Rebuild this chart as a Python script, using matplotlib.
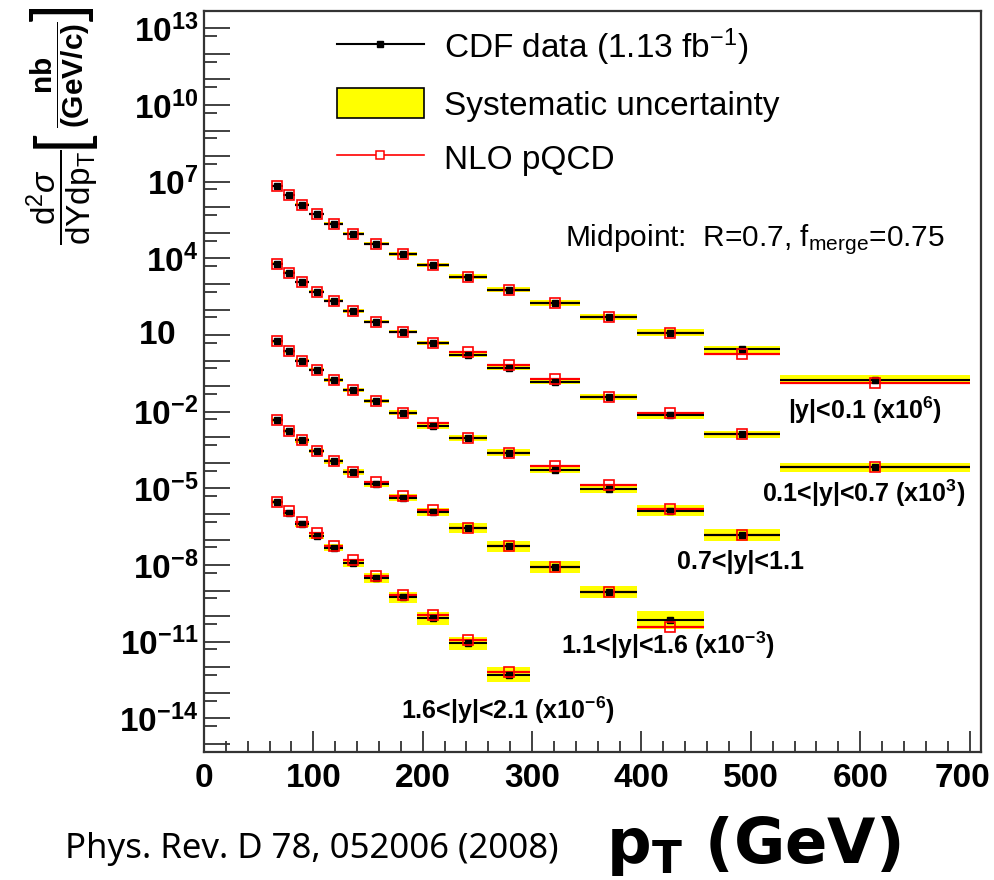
import numpy as np
import matplotlib
matplotlib.use('Agg')
import matplotlib.pyplot as plt
from matplotlib.lines import Line2D
from matplotlib.patches import Patch
from matplotlib.ticker import FixedLocator, FuncFormatter, MultipleLocator

plt.rcParams['font.family'] = ['Liberation Sans', 'DejaVu Sans']
plt.rcParams['mathtext.fontset'] = 'custom'
plt.rcParams['mathtext.rm'] = 'Liberation Sans'
plt.rcParams['mathtext.it'] = 'Liberation Sans:italic'
plt.rcParams['mathtext.bf'] = 'Liberation Sans:bold'
plt.rcParams['mathtext.sf'] = 'Liberation Sans'

# ---------------- data ----------------
pt_edges = [62, 72, 83, 96, 110, 127, 146, 169, 195, 224, 259, 298, 344, 396, 457, 527, 700]

region_labels = ['|y|<0.1 (x10$^{\\mathbf{6}}$)',
                 '0.1<|y|<0.7 (x10$^{\\mathbf{3}}$)',
                 '0.7<|y|<1.1',
                 '1.1<|y|<1.6 (x10$^{\\mathbf{-3}}$)',
                 '1.6<|y|<2.1 (x10$^{\\mathbf{-6}}$)']
region_scales = [1e6, 1e3, 1.0, 1e-3, 1e-6]

# cross sections in nb/(GeV/c), before the display scale factor
data_y1 = [6.85, 2.96, 1.28, 0.55, 0.231, 0.0904, 0.038, 0.0145, 5.37e-3, 1.94e-3,
           6.0e-4, 1.79e-4, 5.07e-5, 1.24e-5, 2.75e-6, 1.79e-7]
nlo_y1 = [6.85, 2.96, 1.28, 0.55, 0.231, 0.0904, 0.038, 0.0145, 5.37e-3, 1.94e-3,
          6.0e-4, 1.79e-4, 5.07e-5, 1.24e-5, 1.87e-6, 1.32e-7]
sys_y1 = [0.12, 0.12, 0.12, 0.12, 0.14, 0.14, 0.16, 0.18, 0.20, 0.22,
          0.25, 0.28, 0.30, 0.35, 0.40, 0.50]

data_y2 = [6.27, 2.78, 1.19, 0.492, 0.222, 0.0871, 0.0335, 0.0136, 4.86e-3, 1.65e-3,
           5.28e-4, 1.50e-4, 3.72e-5, 7.16e-6, 1.29e-6, 6.76e-8]
nlo_y2 = [6.27, 2.78, 1.19, 0.492, 0.222, 0.0871, 0.0335, 0.0136, 4.86e-3, 2.16e-3,
          6.5e-4, 1.84e-4, 3.72e-5, 9.1e-6, 1.29e-6, 6.76e-8]
sys_y2 = [0.12, 0.12, 0.12, 0.13, 0.14, 0.15, 0.16, 0.18, 0.20, 0.22,
          0.25, 0.28, 0.32, 0.36, 0.42, 0.50]

data_y3 = [5.66, 2.36, 0.993, 0.442, 0.179, 0.0702, 0.0269, 9.12e-3, 2.82e-3, 9.25e-4,
           2.54e-4, 5.50e-5, 9.64e-6, 1.36e-6, 1.47e-7]
nlo_y3 = [5.66, 2.36, 0.993, 0.442, 0.179, 0.0702, 0.0269, 9.12e-3, 3.48e-3, 9.25e-4,
          2.54e-4, 7.4e-5, 1.42e-5, 1.58e-6, 1.5e-7]
sys_y3 = [0.15, 0.15, 0.15, 0.16, 0.18, 0.20, 0.22, 0.25, 0.28, 0.32,
          0.36, 0.42, 0.50, 0.60, 0.70]

data_y4 = [4.85, 1.80, 0.750, 0.296, 0.116, 0.0431, 0.0151, 4.28e-3, 1.21e-3, 2.86e-4,
           5.43e-5, 8.34e-6, 8.57e-7, 7.11e-8]
nlo_y4 = [4.85, 1.80, 0.750, 0.296, 0.116, 0.0431, 0.0175, 4.94e-3, 1.40e-3, 2.86e-4,
          5.43e-5, 8.34e-6, 8.57e-7, 3.66e-8]
sys_y4 = [0.18, 0.18, 0.20, 0.22, 0.25, 0.28, 0.32, 0.38, 0.45, 0.52,
          0.60, 0.70, 0.72, 1.20]

data_y5 = [2.88, 1.11, 0.395, 0.139, 0.0471, 0.0119, 3.17e-3, 5.47e-4, 8.22e-5, 8.63e-6, 5.13e-7]
nlo_y5 = [2.88, 1.36, 0.503, 0.182, 0.0579, 0.0160, 3.70e-3, 6.97e-4, 1.15e-4, 1.17e-5, 6.71e-7]
sys_y5 = [0.20, 0.22, 0.25, 0.30, 0.36, 0.45, 0.55, 0.65, 0.75, 0.85, 1.00]

data_sets = [data_y1, data_y2, data_y3, data_y4, data_y5]
nlo_sets = [nlo_y1, nlo_y2, nlo_y3, nlo_y4, nlo_y5]
sys_sets = [sys_y1, sys_y2, sys_y3, sys_y4, sys_y5]

legend_labels = ['CDF data (1.13 fb$^{-1}$)', 'Systematic uncertainty', 'NLO pQCD']
x_ticks = [0, 100, 200, 300, 400, 500, 600, 700]
y_decades = list(range(-15, 14))
y_labelled = [13, 10, 7, 4, 1, -2, -5, -8, -11, -14]

# ---------------- figure ----------------
W, H = 994, 880
fig = plt.figure(figsize=(W / 100, H / 100), dpi=100)
fig.patch.set_facecolor('white')


def fx(px):
    return px / W


def fy(py):
    return 1 - py / H


ax = fig.add_axes([fx(204), fy(751.5), fx(980.5) - fx(204), fy(10.7) - fy(751.5)])
ax.set_yscale('log')
ax.set_xlim(0, 710)
ax.set_ylim(5.1e-16, 4.9e13)

for data, nlo, sys, scale in zip(data_sets, nlo_sets, sys_sets, region_scales):
    n = len(data)
    lo = np.array(pt_edges[:n], dtype=float)
    hi = np.array(pt_edges[1:n + 1], dtype=float)
    xc = (lo + hi) / 2
    xe = (hi - lo) / 2
    d = np.array(data) * scale
    t = np.array(nlo) * scale
    s = np.array(sys)
    ax.bar(lo, d * (1 + s) - d / (1 + s), width=hi - lo, bottom=d / (1 + s),
           align='edge', color='#ffff00', edgecolor='none', zorder=1)
    ax.errorbar(xc, t, xerr=xe, fmt='none', ecolor='red', elinewidth=1.6,
                capsize=0, zorder=2)
    ax.errorbar(xc, d, xerr=xe, fmt='s', color='black', ms=5, elinewidth=1.5,
                capsize=0, zorder=3)
    ax.plot(xc, t, 's', mfc='none', mec='red', ms=6.5, mew=1.2, zorder=4)

# axes styling
for sp in ax.spines.values():
    sp.set_linewidth(1.6)
    sp.set_color('#333333')
ax.axvline(709.2, color='#ff9090', lw=0.8, zorder=0)

ax.xaxis.set_major_locator(FixedLocator(x_ticks))
ax.xaxis.set_minor_locator(MultipleLocator(20))
ax.yaxis.set_major_locator(FixedLocator([10.0 ** k for k in y_decades]))
ax.yaxis.set_minor_locator(FixedLocator([5 * 10.0 ** k for k in y_decades]))


def yfmt(v, pos):
    k = int(round(np.log10(v)))
    if k not in y_labelled or k == 1:
        return ''
    return r'$\mathbf{10^{%d}}$' % k


def xfmt(v, pos):
    return '' if v >= 700 else '%d' % v


ax.yaxis.set_major_formatter(FuncFormatter(yfmt))
ax.yaxis.set_minor_formatter(FuncFormatter(lambda v, p: ''))
ax.xaxis.set_major_formatter(FuncFormatter(xfmt))
ax.tick_params(axis='y', which='major', direction='in', length=18.5, width=1.3,
               color='#333333', labelsize=24, pad=4)
ax.tick_params(axis='y', which='minor', direction='in', length=9.5, width=1.3,
               color='#333333')
ax.tick_params(axis='x', which='major', direction='in', length=15, width=1.3,
               color='#333333', labelsize=24, pad=8)
ax.tick_params(axis='x', which='minor', direction='in', length=8, width=1.3,
               color='#333333')
for lab in ax.get_xticklabels():
    lab.set_fontweight('bold')

# the "10" label sits where the base of the other labels sits
ax.annotate(r'$\mathbf{10}$', xy=(0, 10.0), xycoords=('axes fraction', 'data'),
            xytext=(-28, 0), textcoords='offset pixels', ha='right', va='center',
            fontsize=24)
# last x label, nudged so that it stays inside the picture
ax.annotate('700', xy=(700, 0), xycoords=('data', 'axes fraction'),
            xytext=(-7, -11), textcoords='offset pixels', ha='center', va='top',
            fontsize=24, fontweight='bold')

# legend
handles = [Line2D([], [], color='black', lw=1.5, marker='s', ms=5),
           Patch(facecolor='#ffff00', edgecolor='black', lw=1.2),
           Line2D([], [], color='red', lw=1.2, marker='s', ms=6, mfc='white', mec='red', mew=1.1)]
fig.legend(handles, legend_labels, loc='upper left', bbox_to_anchor=(fx(337), fy(26)),
           bbox_transform=fig.transFigure, frameon=False, fontsize=24,
           handlelength=2.6, handleheight=1.0, handletextpad=0.6, labelspacing=0.62,
           borderpad=0, borderaxespad=0)

fig.text(fx(565), fy(240), r'Midpoint:  R=0.7, f$_{\mathregular{merge}}$=0.75',
         fontsize=21.5, ha='left', va='center')

label_pos = [(865, 410), (864, 493), (740, 562), (668, 645), (508, 710)]
for txt, (px, py) in zip(region_labels, label_pos):
    fig.text(fx(px), fy(py), txt, fontsize=18, fontweight='bold', ha='center', va='center')

# y axis title: d2sigma/dYdpT [nb/(GeV/c)], read bottom-to-top
fig.text(fx(62), fy(197),
         r'$\dfrac{\mathrm{d}^{2}\sigma}{\mathrm{dYdp}_{\mathrm{T}}}$',
         rotation=90, fontsize=24, ha='center', va='center')
fig.text(fx(62), fy(148.5), '[', rotation=90, fontsize=50, family=['Lato', 'DejaVu Sans'],
         fontweight='normal', ha='center', va='bottom')
fig.text(fx(60), fy(74.5),
         r'$\dfrac{\mathbf{nb}}{\mathbf{(GeV/c)}}$',
         rotation=90, fontsize=21.5, ha='center', va='center')
fig.text(fx(62), fy(0), ']', rotation=90, fontsize=50, family=['Lato', 'DejaVu Sans'],
         fontweight='normal', ha='center', va='top')

# bottom texts
fig.text(fx(65), fy(849), 'Phys. Rev. D 78, 052006 (2008)', fontsize=25,
         family=['Noto Sans', 'DejaVu Sans'], ha='left', va='center')
fig.text(fx(606), fy(846), r'$\mathbf{p_{T}}$ (GeV)', fontsize=45, fontweight='bold',
         family=['DejaVu Sans'], math_fontfamily='dejavusans', ha='left', va='center')

fig.savefig('out.png', dpi=100, facecolor='white')
